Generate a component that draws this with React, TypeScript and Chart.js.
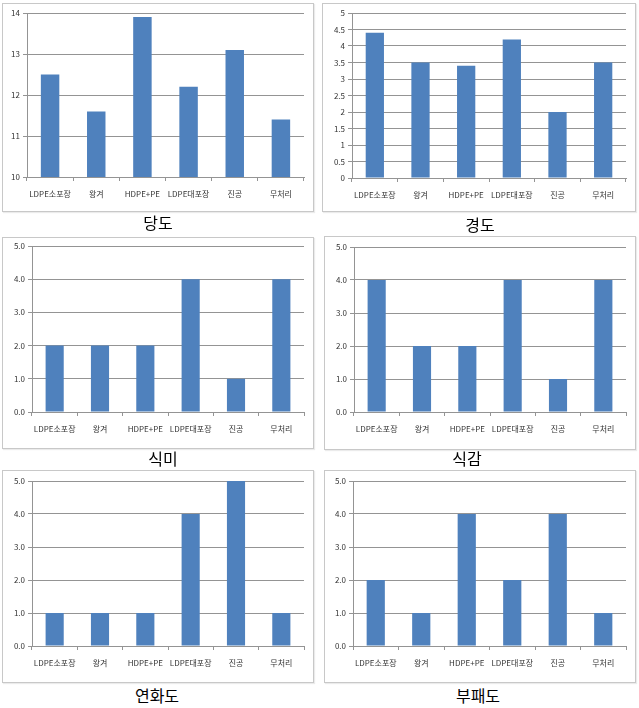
import React, { useEffect, useRef } from "react";
import { Chart, registerables } from "chart.js";

Chart.register(...registerables);

const categories = ["LDPE소포장", "왕겨", "HDPE+PE", "LDPE대포장", "진공", "무처리"];

const sugarValues = [12.5, 11.6, 13.9, 12.2, 13.1, 11.4]; // 당도
const hardnessValues = [4.4, 3.5, 3.4, 4.2, 2.0, 3.5]; // 경도
const tasteValues = [2, 2, 2, 4, 1, 4]; // 식미
const textureValues = [4, 2, 2, 4, 1, 4]; // 식감
const softeningValues = [1, 1, 1, 4, 5, 1]; // 연화도
const decayValues = [2, 1, 4, 2, 4, 1]; // 부패도

const titles = ["당도", "경도", "식미", "식감", "연화도", "부패도"];

type Box = { l: number; t: number; r: number; b: number };

const FONT = "'Noto Sans CJK KR', 'Noto Sans', sans-serif";

function BarPanel(props: {
  values: number[];
  min: number;
  max: number;
  step: number;
  decimals: number | null;
  box: Box;
  plot: Box;
}) {
  const { values, min, max, step, decimals, box, plot } = props;
  const ref = useRef<HTMLCanvasElement | null>(null);
  const w = box.r - box.l;
  const h = box.b - box.t;
  useEffect(() => {
    if (!ref.current) return;
    const chart = new Chart(ref.current, {
      type: "bar",
      data: {
        labels: categories,
        datasets: [
          {
            data: values,
            backgroundColor: "#4f81bd",
            borderWidth: 0,
            barPercentage: 0.4,
            categoryPercentage: 1,
          },
        ],
      },
      options: {
        responsive: false,
        animation: false,
        layout: {
          padding: { left: 0, top: plot.t - box.t, right: box.r - plot.r, bottom: 0 },
        },
        plugins: { legend: { display: false }, tooltip: { enabled: false } },
        scales: {
          x: {
            grid: {
              drawOnChartArea: false,
              drawTicks: true,
              tickLength: 4,
              color: "#949494",
              offset: true,
            },
            border: { display: true, color: "#949494" },
            ticks: {
              font: { family: FONT, size: 8 },
              color: "#333333",
              padding: 8,
              maxRotation: 0,
              minRotation: 0,
              autoSkip: false,
            },
            afterFit: (s: any) => {
              s.height = box.b - plot.b;
            },
          },
          y: {
            min,
            max,
            grid: { color: "#949494", drawTicks: true, tickLength: 4 },
            border: { display: true, color: "#949494" },
            ticks: {
              stepSize: step,
              font: { family: FONT, size: 8 },
              color: "#333333",
              padding: 3,
              callback: (v: any) =>
                decimals === null ? String(Math.round(Number(v) * 10) / 10) : Number(v).toFixed(decimals),
            },
            afterFit: (s: any) => {
              s.width = plot.l - box.l;
            },
          },
        },
      },
    } as any);
    return () => chart.destroy();
  }, []);
  return (
    <>
      <div
        style={{
          position: "absolute",
          left: box.l,
          top: box.t,
          width: w - 2,
          height: h - 2,
          border: "1px solid #c8c8c8",
          boxShadow: "1px 1px 1px rgba(0,0,0,0.08)",
        }}
      />
      <canvas
        ref={ref}
        width={w}
        height={h}
        style={{ position: "absolute", left: box.l, top: box.t, width: w, height: h }}
      />
    </>
  );
}

function Title(props: { text: string; cx: number; cy: number }) {
  return (
    <div
      style={{
        position: "absolute",
        left: props.cx - 60,
        top: props.cy - 11,
        width: 120,
        height: 22,
        lineHeight: "22px",
        textAlign: "center",
        fontFamily: FONT,
        fontSize: 16,
        color: "#000",
      }}
    >
      {props.text}
    </div>
  );
}

export default function App() {
  return (
    <div
      style={{
        position: "absolute",
        left: 0,
        top: 0,
        width: 639,
        height: 708,
        background: "#fff",
        overflow: "hidden",
      }}
    >
      <BarPanel values={sugarValues} min={10} max={14} step={1} decimals={0}
        box={{ l: 2, t: 3, r: 314, b: 212 }} plot={{ l: 27, t: 13, r: 304, b: 177 }} />
      <BarPanel values={hardnessValues} min={0} max={5} step={0.5} decimals={null}
        box={{ l: 322, t: 3, r: 636, b: 212 }} plot={{ l: 352, t: 13, r: 626, b: 178 }} />
      <BarPanel values={tasteValues} min={0} max={5} step={1} decimals={1}
        box={{ l: 2, t: 237, r: 314, b: 449 }} plot={{ l: 32, t: 246, r: 304, b: 412 }} />
      <BarPanel values={textureValues} min={0} max={5} step={1} decimals={1}
        box={{ l: 324, t: 236, r: 636, b: 450 }} plot={{ l: 354, t: 247, r: 626, b: 412 }} />
      <BarPanel values={softeningValues} min={0} max={5} step={1} decimals={1}
        box={{ l: 2, t: 470, r: 314, b: 683 }} plot={{ l: 32, t: 481, r: 304, b: 646 }} />
      <BarPanel values={decayValues} min={0} max={5} step={1} decimals={1}
        box={{ l: 324, t: 470, r: 636, b: 683 }} plot={{ l: 353, t: 481, r: 626, b: 646 }} />
      <Title text={titles[0]} cx={158} cy={222} />
      <Title text={titles[1]} cx={480} cy={224} />
      <Title text={titles[2]} cx={163} cy={458} />
      <Title text={titles[3]} cx={467} cy={458} />
      <Title text={titles[4]} cx={157} cy={695} />
      <Title text={titles[5]} cx={478} cy={695} />
    </div>
  );
}
